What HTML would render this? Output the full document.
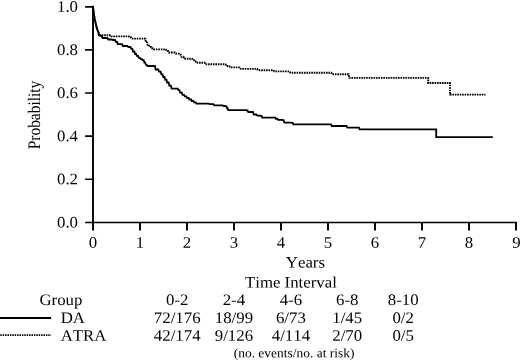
<!DOCTYPE html>
<html><head><meta charset="utf-8">
<style>
html,body{margin:0;padding:0;background:#fff;}
body{width:520px;height:361px;overflow:hidden;}
svg{display:block;will-change:transform;}
text{font-family:"Liberation Serif",serif;fill:#000;font-kerning:none;font-variant-ligatures:none;text-rendering:geometricPrecision;}
</style></head><body>
<svg width="520" height="361" viewBox="0 0 520 361">

<g stroke="#000" stroke-width="1.9" fill="none">
<path d="M93 5.85V230.4"/>
<path stroke-width="1.65" d="M85.1 222.5H517"/>
<path stroke-width="1.65" d="M85.1 6.8H93M85.1 49.92H93M85.1 93.04H93M85.1 136.16H93M85.1 179.28H93"/>
<path d="M140 222.3V230.4M187 222.3V230.4M234 222.3V230.4M281 222.3V230.4M328 222.3V230.4M375 222.3V230.4M422 222.3V230.4M469 222.3V230.4M516 222.3V230.4"/>
</g>
<path fill="none" stroke="#000" stroke-width="1.8" stroke-linejoin="miter" d="M93 6.8L93.6 12L94.6 18.5L96.2 25.7L97.9 31.3L98.25 31.3L98.95 35L99.3 35L99.6 35L100.2 35.9L100.5 35.9L101.8 35.9L102.5 38L103.8 38L107.3 38L108.2 39.5L111.9 39.5L112.8 40L115 40L115.9 41.9L117.1 41.9L117.8 44.2L119 44.2L122 44.2L122.9 46L127.4 46L128.3 47L130.5 47L131.4 48.8L132.35 48.8L133.05 51.5L134 51.5L134.4 51.5L135.1 54L135.5 54L136.12 54L136.82 55.95L138.08 55.95L138.78 57.9L139.4 57.9L140.03 57.9L140.72 59.05L141.98 59.05L142.68 60.2L143.3 60.2L143.73 60.2L144.43 62.55L145.28 62.55L145.97 64.9L146.4 64.9L146.8 64.9L147.5 66L147.9 66L153.3 66L154.9 66L155.6 69.5L157.2 69.5L158.25 69.5L158.95 71.6L160 71.6L160.62 71.6L161.32 74.3L162.58 74.3L163.28 77L163.9 77L164.53 77L165.22 79.75L166.48 79.75L167.18 82.5L167.8 82.5L168.6 82.5L169.3 85.6L170.9 85.6L171.6 88.7L172.4 88.7L177.7 88.7L178.6 90.2L179.42 90.2L180.12 92.55L181.78 92.55L182.47 94.9L183.3 94.9L184.1 94.9L184.8 96.45L186.4 96.45L187.1 98L187.9 98L188.72 98L189.42 99.5L191.08 99.5L191.78 101L192.6 101L193.4 101L194.1 102.35L195.7 102.35L196.4 103.7L197.2 103.7L208.7 103.7L209.6 104.2L213.4 104.2L214.3 105.3L222.7 105.3L223.6 106L225.3 106L226.2 106.3L226.49 106.3L227.06 108.25L227.64 108.25L228.21 110.2L228.5 110.2L246.2 110.2L247.1 110.5L247.55 110.5L248.25 112L248.7 112L252.6 112L253 112L253.7 114.5L254.1 114.5L256.3 114.5L257.2 115.6L260.2 115.6L261.1 116L261.5 116L262.2 117.6L262.6 117.6L274.3 117.6L275.1 117.6L275.8 118.75L277.4 118.75L278.1 119.9L278.9 119.9L281.9 119.9L282.8 120.2L283.6 120.2L284.3 122.6L285.1 122.6L291.2 122.6L292.1 122.9L292.75 122.9L293.45 124.4L294.1 124.4L330.6 124.4L331.05 124.4L331.75 126L332.2 126L346.1 126L346.55 126L347.25 127.7L347.7 127.7L358.5 127.7L358.95 127.7L359.65 129.4L360.1 129.4L436.2 129.4L436.2 137.2L492.8 137.2"/>
<path fill="none" stroke="#000" stroke-width="1.9" stroke-dasharray="1.6 0.85" d="M93 6.8L93.6 12L94.6 18.5L96.2 25.7L97.9 31.3L98.6 33.5L98.85 33.5L99.35 35.3L99.6 35.3L110.4 35.3L110.73 35.3L111.38 36.4L111.7 36.4L127.6 36.4L128.5 36.5L129.12 36.5L129.82 37.55L131.08 37.55L131.78 38.6L132.4 38.6L143.9 38.6L144.8 38.8L145.25 38.8L145.95 42.4L146.4 42.4L147 42.4L147.7 44.7L148.9 44.7L149.6 47L150.2 47L151.03 47L151.72 48.2L153.38 48.2L154.08 49.4L154.9 49.4L165 49.4L165.8 49.4L166.5 50.95L168.1 50.95L168.8 52.5L169.6 52.5L174.9 52.5L175.8 53.6L178.8 53.6L179.7 54.8L180.7 54.8L181.4 56.75L183.4 56.75L184.1 58.7L185.1 58.7L192 58.7L192.9 60.2L194.03 60.2L194.72 61.5L196.98 61.5L197.68 62.8L198.8 62.8L205.6 62.8L206.5 64.3L225.3 64.3L226.2 65L227.03 65L227.72 66.2L229.38 66.2L230.08 67.4L230.9 67.4L237.8 67.4L240 67.4L240.9 68.9L254.9 68.9L257.1 68.9L258 70.2L271.2 70.2L273.4 70.2L274.3 71.4L287.4 71.4L289.6 71.4L290.5 72.8L330.6 72.8L331.25 72.8L331.95 74.3L332.6 74.3L347.4 74.3L348.6 74.3L349.3 77.9L350.5 77.9L428.2 77.9L428.2 83L450 83L450 94.6L485.5 94.6"/>
<text font-size="16" text-anchor="end" transform="translate(78 11.8) rotate(0.03) scale(1.05 1)">1.0</text>
<text font-size="16" text-anchor="end" transform="translate(78 54.92) rotate(0.03) scale(1.05 1)">0.8</text>
<text font-size="16" text-anchor="end" transform="translate(78 98.04) rotate(0.03) scale(1.05 1)">0.6</text>
<text font-size="16" text-anchor="end" transform="translate(78 141.16) rotate(0.03) scale(1.05 1)">0.4</text>
<text font-size="16" text-anchor="end" transform="translate(78 184.28) rotate(0.03) scale(1.05 1)">0.2</text>
<text font-size="16" text-anchor="end" transform="translate(78 227.4) rotate(0.03) scale(1.05 1)">0.0</text>
<text font-size="16" text-anchor="middle" transform="translate(40.4 115) rotate(-90) scale(0.965 1.1)">Probability</text>
<text font-size="16" text-anchor="middle" transform="translate(93 247.7) rotate(0.03) scale(1.05 1)">0</text>
<text font-size="16" text-anchor="middle" transform="translate(140 247.7) rotate(0.03) scale(1.05 1)">1</text>
<text font-size="16" text-anchor="middle" transform="translate(187 247.7) rotate(0.03) scale(1.05 1)">2</text>
<text font-size="16" text-anchor="middle" transform="translate(234 247.7) rotate(0.03) scale(1.05 1)">3</text>
<text font-size="16" text-anchor="middle" transform="translate(281 247.7) rotate(0.03) scale(1.05 1)">4</text>
<text font-size="16" text-anchor="middle" transform="translate(328 247.7) rotate(0.03) scale(1.05 1)">5</text>
<text font-size="16" text-anchor="middle" transform="translate(375 247.7) rotate(0.03) scale(1.05 1)">6</text>
<text font-size="16" text-anchor="middle" transform="translate(422 247.7) rotate(0.03) scale(1.05 1)">7</text>
<text font-size="16" text-anchor="middle" transform="translate(469 247.7) rotate(0.03) scale(1.05 1)">8</text>
<text font-size="16" text-anchor="middle" transform="translate(516.4 247.7) rotate(0.03) scale(1.05 1)">9</text>
<text font-size="16" text-anchor="middle" transform="translate(305.4 267.5) rotate(0.03) scale(1.05 1)">Years</text>
<text font-size="16" text-anchor="middle" transform="translate(290.9 287.6) rotate(0.03) scale(1.05 1)">Time Interval</text>
<text font-size="16" text-anchor="middle" transform="translate(60.9 304.9) rotate(0.03) scale(1.05 1)">Group</text>
<text font-size="16" text-anchor="middle" transform="translate(177.2 304.9) rotate(0.03) scale(1.05 1)">0-2</text>
<text font-size="16" text-anchor="middle" transform="translate(233.9 304.9) rotate(0.03) scale(1.05 1)">2-4</text>
<text font-size="16" text-anchor="middle" transform="translate(290.9 304.9) rotate(0.03) scale(1.05 1)">4-6</text>
<text font-size="16" text-anchor="middle" transform="translate(347.2 304.9) rotate(0.03) scale(1.05 1)">6-8</text>
<text font-size="16" text-anchor="middle" transform="translate(403.2 304.9) rotate(0.03) scale(1.05 1)">8-10</text>
<text font-size="16" text-anchor="middle" transform="translate(177.2 323) rotate(0.03) scale(1.05 1)">72/176</text>
<text font-size="16" text-anchor="middle" transform="translate(233.9 323) rotate(0.03) scale(1.05 1)">18/99</text>
<text font-size="16" text-anchor="middle" transform="translate(290.9 323) rotate(0.03) scale(1.05 1)">6/73</text>
<text font-size="16" text-anchor="middle" transform="translate(347.2 323) rotate(0.03) scale(1.05 1)">1/45</text>
<text font-size="16" text-anchor="middle" transform="translate(403.2 323) rotate(0.03) scale(1.05 1)">0/2</text>
<text font-size="16" text-anchor="middle" transform="translate(177.2 340.7) rotate(0.03) scale(1.05 1)">42/174</text>
<text font-size="16" text-anchor="middle" transform="translate(233.9 340.7) rotate(0.03) scale(1.05 1)">9/126</text>
<text font-size="16" text-anchor="middle" transform="translate(290.9 340.7) rotate(0.03) scale(1.05 1)">4/114</text>
<text font-size="16" text-anchor="middle" transform="translate(347.2 340.7) rotate(0.03) scale(1.05 1)">2/70</text>
<text font-size="16" text-anchor="middle" transform="translate(403.2 340.7) rotate(0.03) scale(1.05 1)">0/5</text>
<text font-size="16" text-anchor="start" transform="translate(60.7 323) rotate(0.03) scale(1.05 1)">DA</text>
<text font-size="16" text-anchor="start" transform="translate(60.7 340.7) rotate(0.03) scale(1.05 1)">ATRA</text>
<text font-size="13" text-anchor="start" transform="translate(233.7 357.3) rotate(0.03) scale(1.035 1)">(no. events/no. at risk)</text>
<path d="M0 318H51.1" stroke="#000" stroke-width="1.8"/>
<path d="M0.3 335.2H51.1" stroke="#000" stroke-width="1.8" stroke-dasharray="1.5 0.9"/>
</svg>
</body></html>
